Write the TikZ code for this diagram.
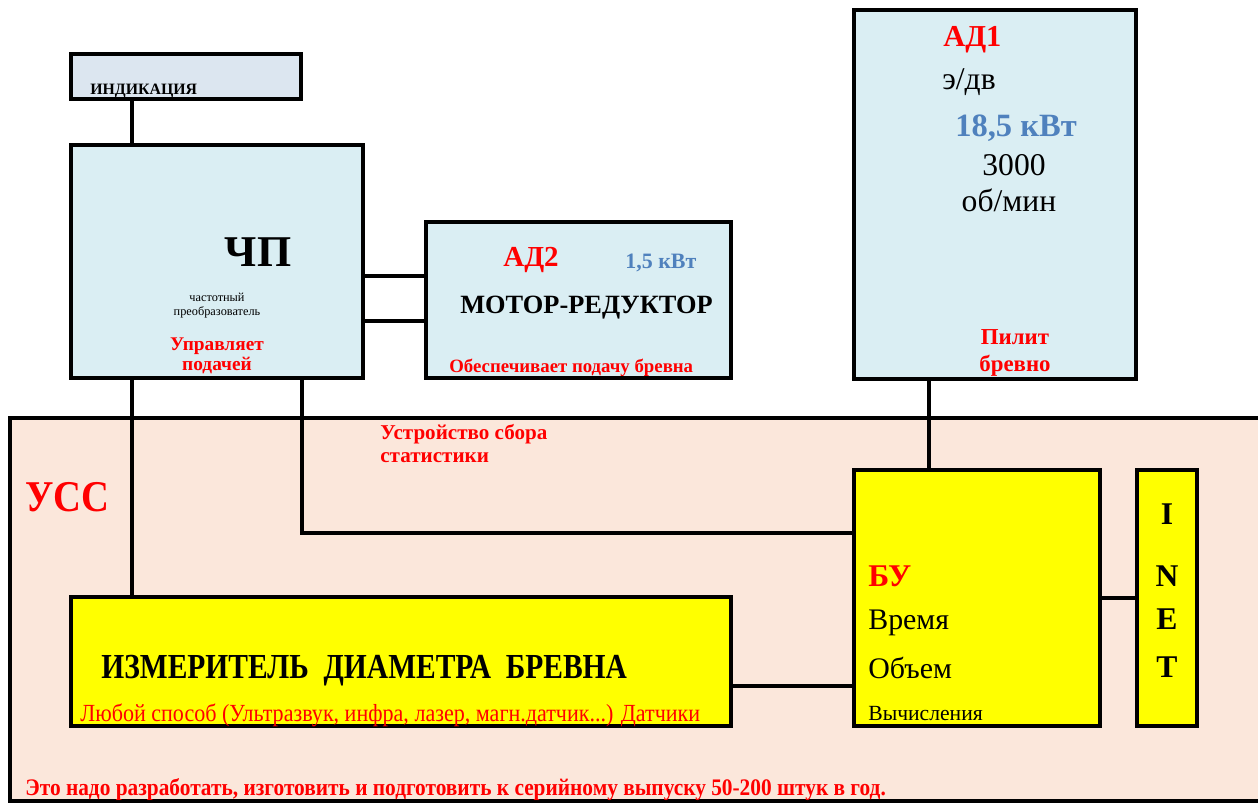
\documentclass[tikz,border=0pt]{standalone}
\usepackage{fontspec}
\setmainfont{Liberation Serif}
\usepackage{graphicx}
\usetikzlibrary{positioning}
\definecolor{chpfill}{HTML}{DAEEF3}
\definecolor{indfill}{HTML}{DCE6F0}
\definecolor{ussfill}{HTML}{FBE7DB}
\definecolor{notered}{HTML}{FF0000}
\definecolor{kwt}{HTML}{4F81BD}
\definecolor{yel}{HTML}{FFFF00}
\newcommand{\fsz}[1]{\fontsize{#1}{#1}\selectfont}

\begin{document}
\begin{tikzpicture}[x=0.02cm,y=-0.02cm,
  blk/.style 2 args={draw,line width=1.9pt,inner sep=0pt,
    minimum width=#1*0.02cm,minimum height=#2*0.02cm},
  wire/.style={line width=2pt},
  lbl/.style={inner sep=0pt,anchor=base west}]
  \useasboundingbox (0,0) rectangle (1258,803);

  % УСС area
  \fill[ussfill] (10,418) rectangle (1270,801);
  \draw[line width=1.9pt] (1270,418) -- (10,418) -- (10,801) -- (1270,801);

  % blocks
  \node[blk={230}{45},fill=indfill] (ind) at (186,76.5) {};
  \node[blk={292}{233},fill=chpfill] (chp) at (217,261.5) {};
  \node[blk={305}{156},fill=chpfill] (ad2) at (578.5,300) {};
  \node[blk={282}{369},fill=chpfill] (ad1) at (995,194.5) {};
  \node[blk={660}{129},fill=yel] (izm) at (401,661.5) {};
  \node[blk={246}{256},fill=yel] (bu) at (977,598) {};
  \node[blk={60}{256},fill=yel] (inet) at (1167,598) {};

  % taps
  \coordinate (tapL) at (132,0);
  \coordinate (tapM) at (302,0);
  \coordinate (tapR) at (929,0);
  \coordinate (busA) at (0,276);
  \coordinate (busB) at (0,321);
  \coordinate (busC) at (0,533);
  \coordinate (busD) at (0,686);

  \draw[wire] (ind.south -| tapL) -- (chp.north -| tapL);
  \draw[wire] (chp.east |- busA) -- (ad2.west |- busA);
  \draw[wire] (chp.east |- busB) -- (ad2.west |- busB);
  \draw[wire] (chp.south -| tapL) -- (izm.north -| tapL);
  \draw[wire] (chp.south -| tapM) |- (bu.west |- busC);
  \draw[wire] (ad1.south -| tapR) -- (bu.north -| tapR);
  \draw[wire] (izm.east |- busD) -- (bu.west |- busD);
  \draw[wire] (bu.east) -- (inet.west);

  % texts
  \node[lbl,font=\fsz{9}\bfseries] (indtxt) at (90,95) {ИНДИКАЦИЯ};
  \node[lbl,anchor=base,font=\fsz{25}\bfseries] (chptxt) at (258,267) {ЧП};
  \node[lbl,anchor=base,font=\fsz{7}] (chpsub) at (217,302) {частотный};
  \node[lbl,anchor=base,font=\fsz{7}] (chpsub2) at (217,316) {преобразователь};
  \node[lbl,anchor=base,font=\fsz{11}\bfseries,notered] (chpnote) at (217,351) {Управляет};
  \node[lbl,anchor=base,font=\fsz{11}\bfseries,notered] (chpnote2) at (217,371) {подачей};

  \node[lbl,font=\fsz{16.5}\bfseries,notered] (ad2txt) at (503,267) {АД2};
  \node[lbl,font=\fsz{12.5}\bfseries,kwt] (ad2kw) at (625,269) {1,5 кВт};
  \node[lbl,font=\fsz{15}\bfseries] (ad2sub) at (460,314) {МОТОР-РЕДУКТОР};
  \node[lbl,font=\fsz{10.7}\bfseries,notered] (ad2note) at (449,373) {Обеспечивает подачу бревна};

  \node[lbl,font=\fsz{17.3}\bfseries,notered] (ad1txt) at (943,47) {АД1};
  \node[lbl,font=\fsz{18}] (ad1sub) at (942,90) {э/дв};
  \node[lbl,font=\fsz{18.5}\bfseries,kwt] (ad1kw) at (955,137) {18,5 кВт};
  \node[lbl,anchor=base,font=\fsz{18}] (ad1rpm) at (1014,176) {3000};
  \node[lbl,anchor=base,font=\fsz{18}] (ad1rpm2) at (1009,212) {об/мин};
  \node[lbl,anchor=base,font=\fsz{13}\bfseries,notered] (ad1note) at (1015,345) {Пилит};
  \node[lbl,anchor=base,font=\fsz{13}\bfseries,notered] (ad1note2) at (1015,372) {бревно};

  \node[lbl,font=\fsz{25}\bfseries,notered] (usstxt) at (25,512) {\scalebox{0.88}[1]{УСС}};
  \node[lbl,font=\fsz{12}\bfseries,notered] (usssub) at (380,440) {Устройство сбора};
  \node[lbl,font=\fsz{12}\bfseries,notered] (usssub2) at (380,463) {статистики};

  \node[lbl,font=\fsz{20}\bfseries] (izmtxt) at (101,679) {\scalebox{0.84}[1]{ИЗМЕРИТЕЛЬ\ \ ДИАМЕТРА\ \ БРЕВНА}};
  \node[lbl,font=\fsz{14},notered] (izmnote) at (80,721) {\scalebox{0.897}[1]{Любой способ (Ультразвук, инфра, лазер, магн.датчик...) Датчики}};

  \node[lbl,font=\fsz{18}\bfseries,notered] (butxt) at (868,587) {БУ};
  \node[lbl,font=\fsz{17}] (bu1) at (868,630) {Время};
  \node[lbl,font=\fsz{17}] (bu2) at (868,679) {Объем};
  \node[lbl,font=\fsz{12.3}] (bu3) at (868,720) {Вычисления};

  \foreach \ch/\yy in {I/525, N/587, E/630, T/678}
    \node[lbl,anchor=base,font=\fsz{18}\bfseries] at (1167,\yy) {\ch};

  \node[lbl,font=\fsz{13.5}\bfseries,notered] (plan) at (25,795) {\scalebox{0.9}[1]{Это надо разработать, изготовить и подготовить к серийному выпуску 50-200 штук в год.}};
\end{tikzpicture}
\end{document}
